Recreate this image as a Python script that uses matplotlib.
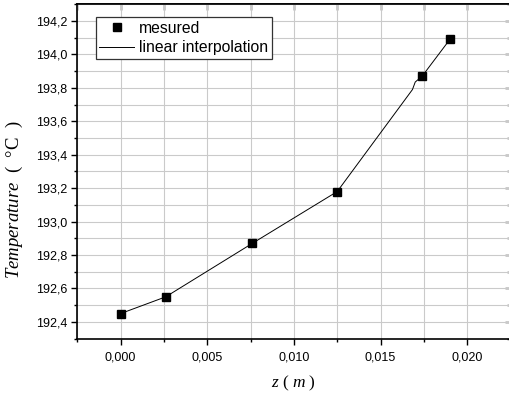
import numpy as np
import matplotlib
matplotlib.use("Agg")
import matplotlib.pyplot as plt
from matplotlib.ticker import MultipleLocator, FuncFormatter

# measured points
z_meas = [0.0, 0.0026, 0.0076, 0.0125, 0.0174, 0.0190]
T_meas = [192.45, 192.55, 192.87, 193.18, 193.87, 194.09]

# interpolation curve (with the small kink before the 5th point)
z_line = [0.0, 0.0026, 0.0076, 0.0125, 0.01684, 0.0170, 0.0174, 0.0190]
T_line = [192.45, 192.55, 192.87, 193.18, 193.79, 193.835, 193.87, 194.09]

plt.rcParams['font.family'] = ['Liberation Sans', 'DejaVu Sans']
plt.rcParams['mathtext.fontset'] = 'custom'
plt.rcParams['mathtext.it'] = 'Liberation Serif:italic'
plt.rcParams['mathtext.rm'] = 'Liberation Serif'


def main():
    fig = plt.figure(figsize=(5.09, 3.98), dpi=100)
    ax = fig.add_axes([0.152, 0.1492, 0.851, 0.840])

    ax.plot(z_line, T_line, color='black', lw=0.7, label='linear interpolation', zorder=3)
    ax.plot(z_meas, T_meas, ls='none', marker='s', ms=5.3, color='black', label='mesured', zorder=4)

    ax.set_xlim(-0.0025, 0.0225)
    ax.set_ylim(192.3, 194.3)

    ax.xaxis.set_major_locator(MultipleLocator(0.005))
    ax.xaxis.set_minor_locator(MultipleLocator(0.0025))
    ax.yaxis.set_major_locator(MultipleLocator(0.2))
    ax.yaxis.set_minor_locator(MultipleLocator(0.1))
    ax.xaxis.set_major_formatter(FuncFormatter(lambda v, p: f"{v:.3f}".replace('.', ',').replace('-', '')))
    ax.yaxis.set_major_formatter(FuncFormatter(lambda v, p: f"{v:.1f}".replace('.', ',')))

    ax.grid(True, which='both', color='#cacaca', lw=0.8, zorder=0)
    ax.set_axisbelow(True)

    for s in ax.spines.values():
        s.set_linewidth(1.2)
    ax.tick_params(which='both', direction='out', labelsize=9, width=1.0, pad=3)
    ax.tick_params(which='major', length=4)
    ax.tick_params(which='minor', length=2.5)
    ax.tick_params(axis='x', which='major', pad=5)
    # top and right ticks point inward
    ax2 = ax.secondary_xaxis('top')
    ax2.set_xticks(np.arange(-0.0025, 0.0226, 0.0025))
    ax2.tick_params(direction='in', length=4, width=1.0, labeltop=False)
    ax2.spines['top'].set_linewidth(1.2)
    ax3 = ax.secondary_yaxis('right')
    ax3.yaxis.set_major_locator(MultipleLocator(0.2))
    ax3.yaxis.set_minor_locator(MultipleLocator(0.1))
    ax3.tick_params(which='both', direction='in', width=1.0, labelright=False)
    ax3.tick_params(which='major', length=4)
    ax3.tick_params(which='minor', length=3)

    ax.text(0.498, -0.133, r'$\mathit{z\ (\ m\ )}$', transform=ax.transAxes,
            ha='center', va='center', fontsize=12.5)
    ax.text(-0.146, 0.415, r'$\mathit{Temperature}$  (  °C  )', transform=ax.transAxes,
            ha='center', va='center', rotation=90, fontsize=13.5, family='Liberation Serif')

    handles, labels = ax.get_legend_handles_labels()
    leg = ax.legend(handles[::-1], labels[::-1], loc='upper left', bbox_to_anchor=(0.042, 0.963),
                    borderaxespad=0, fancybox=False, framealpha=1, edgecolor='#333333',
                    fontsize=11.3, handlelength=2.2, handletextpad=0.3, labelspacing=0.3,
                    borderpad=0.25)
    leg.get_frame().set_linewidth(0.9)

    fig.savefig("out.png", dpi=100)


if __name__ == "__main__":
    main()
